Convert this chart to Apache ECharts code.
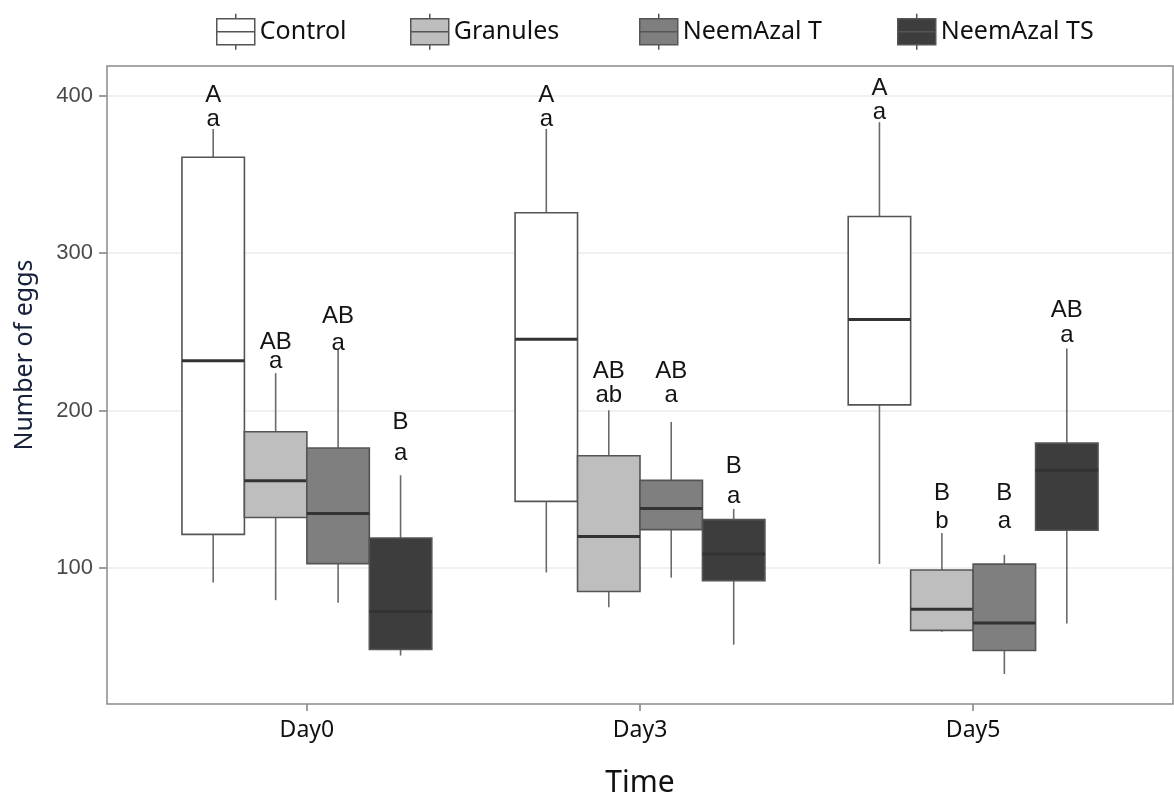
<!DOCTYPE html>
<html>
<head>
<meta charset="utf-8">
<script src="https://cdn.jsdelivr.net/npm/echarts@6/dist/echarts.min.js"></script>
<style>
  html, body { margin: 0; padding: 0; background: #fff; }
  #chart { width: 1174px; height: 800px; }
</style>
</head>
<body>
<div id="chart"></div>
<script>
// Sampling days and treatments
const days = ['Day0', 'Day3', 'Day5'];
const treatments = ['Control', 'Granules', 'NeemAzal T', 'NeemAzal TS'];

// Box summaries per day: [lower whisker, Q1, median, Q3, upper whisker]
const controlStats   = [[90.8, 121.3, 231.6, 361.0, 379.0], [97.1, 142.3, 245.4, 325.7, 379.0], [102.5, 203.6, 257.9, 323.3, 383.3]];
const granulesStats  = [[79.5, 132.0, 155.4, 186.5, 223.8], [75.0, 85.0, 120.0, 171.3, 200.2], [59.5, 60.3, 73.8, 98.7, 122.2]];
const neemTStats     = [[77.9, 102.7, 134.5, 176.2, 239.0], [93.8, 124.3, 137.7, 155.6, 192.8], [32.6, 47.5, 65.0, 102.4, 108.3]];
const neemTSStats    = [[44.3, 48.1, 72.3, 119.0, 158.9], [51.2, 91.9, 108.9, 130.7, 137.5], [64.6, 123.9, 162.0, 179.3, 239.5]];

// Significance letters (upper line / lower line) per day
const controlUpper  = ['A', 'A', 'A'];
const controlLower  = ['a', 'a', 'a'];
const granulesUpper = ['AB', 'AB', 'B'];
const granulesLower = ['a', 'ab', 'b'];
const neemTUpper    = ['AB', 'AB', 'B'];
const neemTLower    = ['a', 'a', 'a'];
const neemTSUpper   = ['B', 'B', 'AB'];
const neemTSLower   = ['a', 'a', 'a'];

// Heights (in eggs) at which each letter line is placed
const controlUpperAt  = [400.4, 400.2, 404.5];
const controlLowerAt  = [385.3, 385.0, 389.7];
const granulesUpperAt = [243.6, 224.8, 147.6];
const granulesLowerAt = [231.0, 209.5, 129.3];
const neemTUpperAt    = [259.6, 224.8, 147.6];
const neemTLowerAt    = [242.6, 209.5, 129.3];
const neemTSUpperAt   = [192.8, 164.7, 263.8];
const neemTSLowerAt   = [172.9, 145.6, 248.0];

// Y axis
const yMin = 13.5, yMax = 419;
const yTicks = [100, 200, 300, 400];

const allStats = [controlStats, granulesStats, neemTStats, neemTSStats];
const allUpper = [controlUpper, granulesUpper, neemTUpper, neemTSUpper];
const allLower = [controlLower, granulesLower, neemTLower, neemTSLower];
const allUpperAt = [controlUpperAt, granulesUpperAt, neemTUpperAt, neemTSUpperAt];
const allLowerAt = [controlLowerAt, granulesLowerAt, neemTLowerAt, neemTSLowerAt];

const fills = ['#ffffff', '#bebebe', '#7f7f7f', '#3d3d3d'];
const outline = '#555555';
const medianColor = '#333333';

// Panel geometry (pixels)
const panel = { left: 107, top: 66, right: 1173, bottom: 704 };
const W = 1174, H = 800;
const expand = 0.6;                         // discrete axis padding, in category units
const unit = (panel.right - panel.left) / (days.length - 1 + 2 * expand);
const dodgeWidth = 0.75;
const boxW = dodgeWidth / treatments.length;

const chart = echarts.init(document.getElementById('chart'), null, { renderer: 'canvas' });

function boxRenderer(k) {
  return function (params, api) {
    const d = params.dataIndex;
    const s = allStats[k][d];
    const xc = d + (k - (treatments.length - 1) / 2) * boxW;
    const half = api.size([boxW, 0])[0] / 2;
    const pLo = api.coord([xc, s[0]]);
    const pQ1 = api.coord([xc, s[1]]);
    const pMed = api.coord([xc, s[2]]);
    const pQ3 = api.coord([xc, s[3]]);
    const pHi = api.coord([xc, s[4]]);
    const pUp = api.coord([xc, allUpperAt[k][d]]);
    const pLw = api.coord([xc, allLowerAt[k][d]]);
    const cx = pMed[0];
    const whisker = { stroke: '#6a6a6a', lineWidth: 1.6 };
    const labelFont = { fontSize: 24, fontFamily: 'Liberation Sans, Arial, sans-serif', fill: '#141414', align: 'center', verticalAlign: 'middle' };
    return {
      type: 'group',
      children: [
        { type: 'line', shape: { x1: cx, y1: pHi[1], x2: cx, y2: pQ3[1] }, style: whisker },
        { type: 'line', shape: { x1: cx, y1: pQ1[1], x2: cx, y2: pLo[1] }, style: whisker },
        { type: 'rect', shape: { x: cx - half, y: pQ3[1], width: 2 * half, height: pQ1[1] - pQ3[1] },
          style: { fill: fills[k], stroke: outline, lineWidth: 1.6 } },
        { type: 'line', shape: { x1: cx - half, y1: pMed[1], x2: cx + half, y2: pMed[1] },
          style: { stroke: medianColor, lineWidth: 3 } },
        { type: 'text', x: cx, y: pUp[1], style: Object.assign({ text: allUpper[k][d] }, labelFont) },
        { type: 'text', x: cx, y: pLw[1], style: Object.assign({ text: allLower[k][d] }, labelFont) }
      ]
    };
  };
}

const boxIcon = 'path://M19,0 V5 M0,5 H38 V18 H0 Z M0,18 H38 V31 H0 Z M19,31 V36';
const legendLeft = [211, 405, 634, 892];

const option = {
  backgroundColor: '#ffffff',
  animation: false,
  grid: [
    { left: panel.left, top: panel.top, right: W - panel.right, bottom: H - panel.bottom,
      outerBoundsMode: 'none' },
    { left: panel.left + (expand - 0.5) * unit, top: panel.top,
      right: W - panel.right + (expand - 0.5) * unit, bottom: H - panel.bottom,
      outerBoundsMode: 'none' }
  ],
  legend: treatments.map((name, k) => ({
    data: [{ name: name, icon: boxIcon, itemStyle: { color: fills[k], borderColor: outline, borderWidth: 1.5 } }],
    left: legendLeft[k],
    top: 8,
    itemWidth: 38,
    itemHeight: 36,
    itemGap: 0,
    selectedMode: false,
    textStyle: { fontSize: 25, fontFamily: 'Noto Sans', color: '#111' }
  })),
  xAxis: [
    { type: 'value', gridIndex: 0, min: -expand, max: days.length - 1 + expand, show: false,
      axisLine: { onZero: false } },
    {
      type: 'category', gridIndex: 1, data: days, boundaryGap: true,
      axisLine: { show: false, onZero: false },
      axisTick: { show: true, alignWithLabel: true, length: 7, lineStyle: { color: '#7f7f7f', width: 1.5 } },
      axisLabel: { margin: 15, fontSize: 23, fontFamily: 'Noto Sans', color: '#111' },
      splitLine: { show: false },
      name: 'Time', nameLocation: 'middle', nameGap: 64,
      nameTextStyle: { fontSize: 30, fontFamily: 'Noto Sans', color: '#111' }
    }
  ],
  yAxis: [
    {
      type: 'value', gridIndex: 0, min: yMin, max: yMax,
      axisLine: { show: false, onZero: false },
      axisTick: { show: true, length: 8, customValues: yTicks, lineStyle: { color: '#7f7f7f', width: 1.5 } },
      axisLabel: { customValues: yTicks, margin: 14, fontSize: 22, fontFamily: 'Liberation Sans, Arial, sans-serif', color: '#4a4a4a' },
      splitLine: { show: true, lineStyle: { color: '#ebebeb', width: 1.5 } },
      name: 'Number of eggs', nameLocation: 'middle', nameGap: 70,
      nameTextStyle: { fontSize: 25, fontFamily: 'Noto Sans', color: '#16203a', padding: [0, 0, 0, 60] }
    },
    { type: 'value', gridIndex: 1, min: yMin, max: yMax, show: false, axisLine: { onZero: false } }
  ],
  series: treatments.map((name, k) => ({
    name: name,
    type: 'custom',
    xAxisIndex: 0,
    yAxisIndex: 0,
    itemStyle: { color: fills[k], borderColor: outline },
    renderItem: boxRenderer(k),
    encode: { x: 0, y: [1, 2, 3, 4, 5] },
    data: allStats[k].map((s, d) => [d].concat(s)),
    z: 3
  })),
  graphic: [{
    type: 'rect', silent: true, z: 100,
    shape: { x: panel.left, y: panel.top, width: panel.right - panel.left, height: panel.bottom - panel.top },
    style: { fill: 'none', stroke: '#8a8a8a', lineWidth: 1.5 }
  }]
};

chart.setOption(option);
</script>
</body>
</html>
